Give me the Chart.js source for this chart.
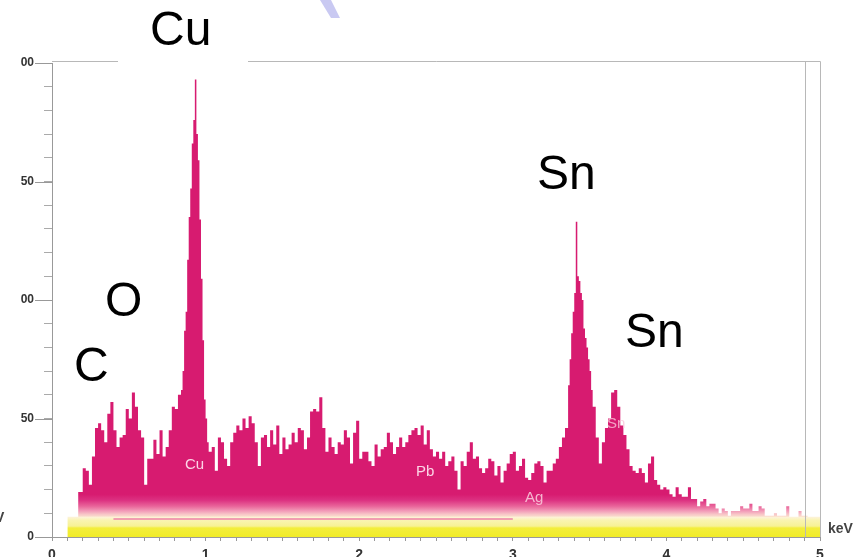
<!DOCTYPE html>
<html><head><meta charset="utf-8">
<script src="https://cdn.jsdelivr.net/npm/chart.js@4.4.1/dist/chart.umd.min.js"></script>
<style>html,body{margin:0;padding:0;background:#fff;overflow:hidden}canvas{display:block}</style>
</head><body>
<canvas id="c" width="863" height="557"></canvas>
<script>
// ---- data (keV / counts) ----
const energies = [
 0.17,0.18,0.20,0.22,0.24,0.26,0.28,0.30,0.32,0.34,0.36,0.38,0.40,0.42,0.44,0.46,0.48,0.50,0.52,0.54,0.56,0.58,0.60,0.62,0.64,0.66,0.68,0.70,0.72,0.74,0.76,0.78,0.80,
 0.82,0.83,0.84,0.85,0.86,0.87,0.88,0.89,0.90,0.91,0.92,0.93,0.94,0.95,0.96,0.97,0.98,0.99,1.00,1.01,
 1.02,1.04,1.06,1.08,1.10,1.12,1.14,1.16,1.18,1.20,
 1.22,1.24,1.26,1.28,1.30,1.32,1.34,1.36,1.38,1.40,
 1.42,1.44,1.46,1.48,1.50,1.52,1.54,1.56,1.58,1.60,
 1.62,1.64,1.66,1.68,1.70,1.72,1.74,1.76,1.78,1.80,
 1.82,1.84,1.86,1.88,1.90,1.92,1.94,1.96,1.98,2.00,
 2.02,2.04,2.06,2.08,2.10,2.12,2.14,2.16,2.18,2.20,
 2.22,2.24,2.26,2.28,2.30,2.32,2.34,2.36,2.38,2.40,
 2.42,2.44,2.46,2.48,2.50,2.52,2.54,2.56,2.58,2.60,
 2.62,2.64,2.66,2.68,2.70,2.72,2.74,2.76,2.78,2.80,
 2.82,2.84,2.86,2.88,2.90,2.92,2.94,2.96,2.98,3.00,
 3.02,3.04,3.06,3.08,3.10,3.12,3.14,3.16,3.18,3.20,
 3.22,3.24,3.26,3.28,3.30,3.32,3.34,
 3.36,3.37,3.38,3.39,3.40,3.41,3.42,3.43,3.44,3.45,3.46,3.47,3.48,3.49,3.50,3.51,
 3.52,3.54,3.56,3.58,3.60,3.62,3.64,3.66,3.68,3.70,
 3.72,3.74,3.76,3.78,3.80,3.82,3.84,3.86,3.88,3.90,
 3.92,3.94,3.96,3.98,4.00,4.02,4.04,4.06,4.08,4.10,
 4.12,4.14,4.16,4.18,4.20,4.22,4.24,4.26,4.28,4.30,
 4.32,4.34,4.36,4.38,4.40,4.42,4.44,4.46,4.48,4.50,
 4.52,4.54,4.56,4.58,4.60,4.62,4.64,4.66,4.68,4.70,
 4.72,4.74,4.76,4.78,4.80,4.82,4.84,4.86,4.88,4.90,
 4.92
];
const counts = [
 19,19,29,28,22,34,46,48,45,40,52,57,45,38,42,43,54,50,61,55,45,42,22,33,33,41,35,45,34,38,45,55,54,
 60,60,62,70,87,95,117,135,147,166,176,193,170,159,134,109,83,58,50,40,
 36,38,28,42,40,33,30,40,44,47,
 45,50,46,51,48,40,30,42,43,38,
 45,39,47,35,42,37,39,44,40,46,
 45,37,42,53,54,53,59,46,36,42,
 38,35,40,39,45,42,31,44,49,33,
 36,36,32,30,39,34,37,38,44,40,
 35,38,42,38,40,43,45,46,43,47,
 39,45,37,34,36,33,36,30,32,34,
 28,20,32,30,36,40,33,34,29,27,
 29,33,32,26,30,23,28,31,35,36,
 28,30,33,25,24,27,31,32,30,23,
 28,28,31,33,38,42,46,
 64,75,86,95,103,133,110,108,103,100,88,84,80,75,70,62,
 55,42,31,40,46,50,61,62,55,47,
 43,37,30,28,27,29,27,23,31,34,
 24,22,20,21,20,18,17,21,18,17,
 17,21,16,16,13,15,16,13,14,14,
 12,10,12,11,9,11,11,11,13,12,
 12,14,11,11,13,12,9,9,9,10,
 9,9,9,13,8,8,8,11,9,9,
 0
];
const bandEnergies = [0.10, 5.00];
const bandCounts = [8.5, 8.5];
const streakEnergies = [0.40, 3.00];
const streakCounts = [7.6, 7.6];
const markerEnergies = [4.90];
const xTickLabels = {0:'0',1:'1',2:'2',3:'3',4:'4',5:'5'};
const yTickLabels = {0:'0',50:'50',100:'00',150:'50',200:'00'};
const peakNames = ['Cu','Sn','O','C','Sn'];
const lineNames = ['Cu','Pb','Ag','Sn'];
const unitLabel = 'keV';

// ---- styling ----
const FONT = '"Liberation Sans", Arial, sans-serif';
function vGrad(chart, stops, maxV){
  const {ctx, scales:{y}} = chart;
  const g = ctx.createLinearGradient(0, y.getPixelForValue(0), 0, y.getPixelForValue(maxV));
  stops.forEach(([v,c]) => g.addColorStop(v/maxV, c));
  return g;
}
const specStops = [[0,'#fbe0cc'],[8.5,'#fbe0cc'],[9.5,'#f8c8c8'],[11,'#f29bb8'],[13,'#e9649a'],[15.5,'#dc3181'],[18,'#d71b70'],[20,'#d71b70']];
const bandStops = [[0,'#f1ec28'],[3.8,'#f3ee3c'],[4.6,'#f7f295'],[7,'#f9f4b0'],[8.5,'#fdf3dc']];

const decor = {
  id:'decor',
  afterDraw(chart){
    const {ctx, chartArea:a, scales:{x,y}} = chart;
    ctx.save();
    ctx.lineWidth = 1;
    ctx.strokeStyle = '#b8b8b8';
    ctx.beginPath();
    ctx.moveTo(a.left, a.top - 1.5); ctx.lineTo(a.right + 0.5, a.top - 1.5); ctx.lineTo(a.right + 0.5, a.bottom);
    ctx.stroke();
    markerEnergies.forEach(e => {
      const px = Math.round(x.getPixelForValue(e)) + 0.5;
      ctx.beginPath(); ctx.moveTo(px, a.top - 1.5); ctx.lineTo(px, a.bottom); ctx.stroke();
    });
    ctx.strokeStyle = '#999';
    Object.keys(yTickLabels).forEach(v => {
      const py = Math.round(y.getPixelForValue(+v)) + 0.5;
      ctx.beginPath(); ctx.moveTo(a.left - 17, py); ctx.lineTo(a.left, py); ctx.stroke();
    });
    // white patch behind the Cu label
    ctx.fillStyle = '#fff';
    ctx.fillRect(118, 0, 130, 66);
    // watermark fragment
    ctx.fillStyle = '#c9c9f2';
    ctx.beginPath(); ctx.moveTo(320,0); ctx.lineTo(331,0); ctx.lineTo(340,18); ctx.lineTo(331,18); ctx.closePath(); ctx.fill();
    // large peak labels
    ctx.fillStyle = '#000';
    ctx.font = '48px ' + FONT;
    ctx.textBaseline = 'alphabetic';
    const bigPos = [[150,45],[537,189],[105,316],[74,381],[625,347]];
    peakNames.forEach((t,i) => ctx.fillText(t, bigPos[i][0], bigPos[i][1]));
    // small element markers
    ctx.font = '15px ' + FONT;
    const smallPos = [[185,469],[416,476],[525,502],[607,428]];
    const smallCol = ['rgba(255,228,240,0.92)','rgba(255,228,240,0.92)','rgba(248,190,212,0.95)','rgba(250,195,218,0.8)'];
    lineNames.forEach((t,i) => { ctx.fillStyle = smallCol[i]; ctx.fillText(t, smallPos[i][0], smallPos[i][1]); });
    // unit labels
    ctx.fillStyle = '#444';
    ctx.font = 'bold 14px ' + FONT;
    ctx.fillText(unitLabel, a.right + 8, a.bottom - 4);
    ctx.fillText('V', -5, a.bottom - 15);
    ctx.restore();
  }
};

new Chart(document.getElementById('c'), {
  type:'line',
  data:{
    datasets:[
      { data: streakEnergies.map((e,i)=>({x:e,y:streakCounts[i]})), borderColor:'rgba(238,130,170,0.75)', borderWidth:2, pointRadius:0, fill:false },
      { data: bandEnergies.map((e,i)=>({x:e,y:bandCounts[i]})), borderWidth:0, borderColor:'rgba(0,0,0,0)', pointRadius:0, fill:'origin',
        backgroundColor: c => c.chart.chartArea ? vGrad(c.chart, bandStops, 8.5) : '#f3ee3c' },
      { data: energies.map((e,i)=>({x:e,y:counts[i]})), stepped:'before', borderWidth:0, borderColor:'rgba(0,0,0,0)', pointRadius:0, fill:'origin',
        backgroundColor: c => c.chart.chartArea ? vGrad(c.chart, specStops, 20) : '#d71b70' }
    ]
  },
  options:{
    responsive:false, animation:false, devicePixelRatio:1,
    layout:{padding:{left:0,right:43,top:63,bottom:0}},
    plugins:{legend:{display:false}, tooltip:{enabled:false}},
    scales:{
      x:{ type:'linear', min:0, max:5,
        afterFit: s => { s.height = 20; },
        border:{color:'#999', width:1},
        grid:{drawOnChartArea:false, drawTicks:true, tickLength:4, color:'#999'},
        ticks:{stepSize:0.1, autoSkip:false, maxRotation:0, padding:6, color:'#333',
          font:{family:FONT, size:14, weight:'bold'},
          callback: v => { const r = Math.round(v); return (Math.abs(v-r) < 1e-6 && xTickLabels[r] !== undefined) ? xTickLabels[r] : ''; } }
      },
      y:{ type:'linear', min:0, max:200,
        afterFit: s => { s.width = 52; },
        border:{color:'#999', width:1},
        grid:{drawOnChartArea:false, drawTicks:true, tickLength:8, color:'#aaa'},
        ticks:{stepSize:10, autoSkip:false, padding:10, color:'#333',
          font:{family:FONT, size:12, weight:'bold'},
          callback: v => yTickLabels[v] !== undefined ? yTickLabels[v] : '' }
      }
    }
  },
  plugins:[decor]
});
</script>
</body></html>
